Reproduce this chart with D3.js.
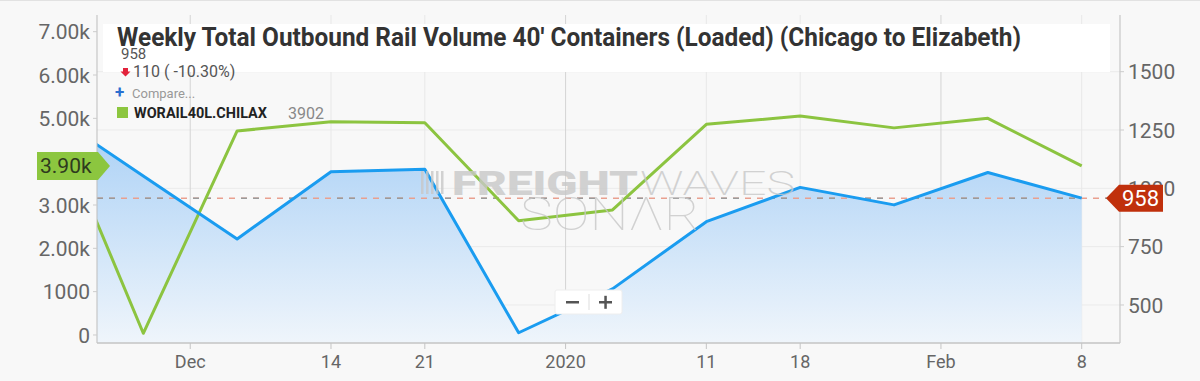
<!DOCTYPE html>
<html>
<head>
<meta charset="utf-8">
<script src="https://cdn.jsdelivr.net/npm/d3@7"></script>
<style>
  body { margin: 0; background: #f8f8f8; }
  svg { font-family: Roboto, "Open Sans", sans-serif; display: block; }
</style>
</head>
<body>
<div id="chart"></div>
<script>

// weekly points (Saturdays), first one sits left of the visible window
var weeks = ["2019-11-23","2019-11-30","2019-12-07","2019-12-14","2019-12-21","2019-12-28",
             "2020-01-04","2020-01-11","2020-01-18","2020-01-25","2020-02-01","2020-02-08"];
// blue series (right axis)
var volume = [1324, 1053, 783, 1071, 1082, 381, 569, 857, 1004, 929, 1068, 958];
// green series WORAIL40L.CHILAX (left axis)
var chilax = [5220, 39, 4708, 4923, 4900, 2638, 2885, 4862, 5054, 4780, 5000, 3902];

var xTickDates = ["2019-12-03T12:00","2019-12-14","2019-12-21","2019-12-31T12:00",
                  "2020-01-11","2020-01-18","2020-01-28T12:00","2020-02-08"];
var xTickLabels = ["Dec","14","21","2020","11","18","Feb","8"];
var xTickMajor = [true,false,false,true,false,false,true,false];

var leftTicks = [0, 1000, 2000, 3000, 4000, 5000, 6000, 7000];
var leftTickLabels = ["0","1000","2.00k","3.00k","4.00k","5.00k","6.00k","7.00k"];
var rightTicks = [500, 750, 1000, 1250, 1500];

var lastVolume = 958, lastChilax = 3902;

var width = 1200, height = 381;
var pLeft = 97, pRight = 1120, pTop = 15, pBottom = 343;

var parse = d3.isoParse;
var data = weeks.map(function(w, i){ return {d: parse(w), v: volume[i], g: chilax[i]}; });

var svg = d3.select("#chart").append("svg")
  .attr("width", width).attr("height", height);

svg.append("rect").attr("width", width).attr("height", height).attr("fill", "#f8f8f8");
svg.append("line").attr("x1",0).attr("x2",width).attr("y1",0.5).attr("y2",0.5)
  .style("stroke","#e2e2e2");

var x = d3.scaleTime()
  .domain([parse("2019-11-30"), parse("2020-02-08")])
  .range([143.3, 1081.7]);
var yL = d3.scaleLinear().domain([-185, 7385]).range([pBottom, pTop]);
var yR = d3.scaleLinear().domain([337, 1743]).range([pBottom, pTop]);

var defs = svg.append("defs");
defs.append("clipPath").attr("id","plot")
  .append("rect").attr("x",pLeft).attr("y",pTop).attr("width",pRight-pLeft).attr("height",pBottom-pTop);
var grad = defs.append("linearGradient").attr("id","blueFill")
  .attr("gradientUnits","userSpaceOnUse")
  .attr("x1",0).attr("x2",0).attr("y1",140).attr("y2",pBottom);
grad.append("stop").attr("offset","0").attr("stop-color","#afd3f6");
grad.append("stop").attr("offset","1").attr("stop-color","#eff5fb");

// grid
svg.selectAll(".hgrid").data(rightTicks).enter().append("line")
  .attr("x1",pLeft).attr("x2",pRight)
  .attr("y1",function(d){return yR(d)}).attr("y2",function(d){return yR(d)})
  .style("stroke","#ebebeb");

var xt = xTickDates.map(function(d,i){ return {d: parse(d), label: xTickLabels[i], major: xTickMajor[i]}; });
svg.selectAll(".vgrid").data(xt).enter().append("line")
  .attr("x1",function(d){return x(d.d)}).attr("x2",function(d){return x(d.d)})
  .attr("y1",pTop).attr("y2",pBottom)
  .style("stroke",function(d){return d.major ? "#d4d4d4" : "#e8e8e8"});

var plot = svg.append("g").attr("clip-path","url(#plot)");

var area = d3.area()
  .x(function(d){return x(d.d)})
  .y0(pBottom)
  .y1(function(d){return yR(d.v)});
plot.append("path").datum(data).attr("d", area).style("fill","url(#blueFill)");

// watermark
var wm = svg.append("g").style("fill","#c8c8c8").style("opacity",0.8);
for (var b=0; b<5; b++){
  wm.append("rect").attr("x",421+b*5).attr("y",171).attr("width",2.5).attr("height",23);
}
wm.append("text").attr("x",452).attr("y",195).style("font-size","34px").style("font-weight",900)
  .attr("textLength",186).attr("lengthAdjust","spacingAndGlyphs").text("FREIGHT");
wm.append("text").attr("x",640).attr("y",195).style("font-size","34px").style("font-weight",200)
  .attr("textLength",155).attr("lengthAdjust","spacingAndGlyphs").text("WAVES");
wm.append("text").attr("x",520).attr("y",230).style("font-size","46px").style("font-weight",100)
  .attr("textLength",180).attr("lengthAdjust","spacingAndGlyphs").text("SONΛR");

// last value dashed lines
plot.append("line").attr("x1",pLeft).attr("x2",pRight)
  .attr("y1",yR(lastVolume)).attr("y2",yR(lastVolume))
  .style("stroke","#e9a08f").style("stroke-width",1.5).style("stroke-dasharray","6,6");
plot.append("line").attr("x1",pLeft).attr("x2",pRight)
  .attr("y1",yR(lastVolume)).attr("y2",yR(lastVolume))
  .style("stroke","#9a9a9a").style("stroke-width",1.5).style("stroke-dasharray","6,6,6,30");

var lineV = d3.line().x(function(d){return x(d.d)}).y(function(d){return yR(d.v)});
var lineG = d3.line().x(function(d){return x(d.d)}).y(function(d){return yL(d.g)});

plot.append("path").datum(data).attr("d", lineG)
  .style("fill","none").style("stroke","#8cc440").style("stroke-width",3).style("stroke-linejoin","round");
plot.append("path").datum(data).attr("d", lineV)
  .style("fill","none").style("stroke","#1a9cf0").style("stroke-width",3).style("stroke-linejoin","round");

// axes lines
svg.append("line").attr("x1",pLeft).attr("x2",pLeft).attr("y1",pTop).attr("y2",pBottom).style("stroke","#bdbdbd");
svg.append("line").attr("x1",pRight).attr("x2",pRight).attr("y1",pTop).attr("y2",pBottom).style("stroke","#bdbdbd");
svg.append("line").attr("x1",pLeft).attr("x2",pRight).attr("y1",pBottom).attr("y2",pBottom).style("stroke","#c4c4c4").style("stroke-width",1.5);

// left axis
var gl = svg.append("g");
gl.selectAll("line").data(leftTicks).enter().append("line")
  .attr("x1",pLeft-4).attr("x2",pLeft).attr("y1",function(d){return yL(d)}).attr("y2",function(d){return yL(d)})
  .style("stroke","#ccc");
gl.selectAll("text").data(leftTicks).enter().append("text")
  .attr("x",pLeft-7).attr("y",function(d){return yL(d)}).attr("dy","0.36em")
  .attr("text-anchor","end").style("font-size","21px").style("fill","#666")
  .text(function(d,i){return leftTickLabels[i]});

// right axis
var gr = svg.append("g");
gr.selectAll("line").data(rightTicks).enter().append("line")
  .attr("x1",pRight).attr("x2",pRight+4).attr("y1",function(d){return yR(d)}).attr("y2",function(d){return yR(d)})
  .style("stroke","#ccc");
gr.selectAll("text").data(rightTicks).enter().append("text")
  .attr("x",pRight+8).attr("y",function(d){return yR(d)}).attr("dy","0.36em")
  .style("font-size","21px").style("fill","#666")
  .text(function(d){return d});

// x axis
var gx = svg.append("g");
gx.selectAll("line").data(xt).enter().append("line")
  .attr("x1",function(d){return x(d.d)}).attr("x2",function(d){return x(d.d)})
  .attr("y1",pBottom).attr("y2",pBottom+6).style("stroke","#c4c4c4");
gx.selectAll("text").data(xt).enter().append("text")
  .attr("x",function(d){return x(d.d)}).attr("y",368)
  .attr("text-anchor","middle").style("font-size","18px").style("fill","#666")
  .text(function(d){return d.label});

// flags
var yg = yL(lastChilax);
svg.append("path")
  .attr("d","M37,"+(yg-14)+"H98L110,"+yg+"L98,"+(yg+14)+"H37Z")
  .style("fill","#8cc63f");
svg.append("text").attr("x",40).attr("y",yg).attr("dy","0.36em")
  .style("font-size","21px").style("fill","#2e3a1e").text("3.90k");

var yv = yR(lastVolume);
svg.append("path")
  .attr("d","M1106,"+yv+"L1119,"+(yv-13.5)+"H1163V"+(yv+13.5)+"H1119Z")
  .style("fill","#c0300c");
svg.append("text").attr("x",1122).attr("y",yv).attr("dy","0.36em")
  .style("font-size","22px").style("fill","#fff").text(lastVolume);

// title box
svg.append("rect").attr("x",103).attr("y",24).attr("width",1007).attr("height",48)
  .style("fill","#fff");
svg.append("text").attr("x",117).attr("y",46)
  .style("font-size","25px").style("font-weight",700).style("fill","#333")
  .attr("textLength",904).attr("lengthAdjust","spacingAndGlyphs")
  .text("Weekly Total Outbound Rail Volume 40' Containers (Loaded) (Chicago to Elizabeth)");

svg.append("text").attr("x",121).attr("y",59).style("font-size","15px").style("fill","#555").text(lastVolume);
svg.append("path").attr("d","M123,68H128V71.5H130.5L125.5,76.5L120.5,71.5H123Z").style("fill","#e2223b");
svg.append("text").attr("x",133).attr("y",77).style("font-size","16px").style("fill","#555")
  .text("110 ( -10.30%)");

svg.append("text").attr("x",115).attr("y",98).style("font-size","17px").style("font-weight",700)
  .style("fill","#2a6fd0").text("+");
svg.append("text").attr("x",132).attr("y",98).style("font-size","13px").style("fill","#999").text("Compare...");

svg.append("rect").attr("x",117).attr("y",107).attr("width",11).attr("height",11).style("fill","#8cc63f");
svg.append("text").attr("x",134).attr("y",118).style("font-size","14px").style("font-weight",700)
  .style("fill","#222").attr("textLength",133).attr("lengthAdjust","spacingAndGlyphs").text("WORAIL40L.CHILAX");
svg.append("text").attr("x",288).attr("y",119).style("font-size","16px").style("fill","#888").text(lastChilax);

// zoom buttons
var zb = svg.append("g");
zb.append("rect").attr("x",555).attr("y",290).attr("width",67).attr("height",24).attr("rx",2)
  .style("fill","#fff").style("stroke","#eee");
zb.append("line").attr("x1",589).attr("x2",589).attr("y1",294).attr("y2",310).style("stroke","#ddd");
zb.append("rect").attr("x",566).attr("y",301).attr("width",13).attr("height",2.5).style("fill","#555");
zb.append("rect").attr("x",599).attr("y",301).attr("width",13).attr("height",2.5).style("fill","#555");
zb.append("rect").attr("x",604.3).attr("y",295.8).attr("width",2.5).attr("height",13).style("fill","#555");

</script>
</body>
</html>
